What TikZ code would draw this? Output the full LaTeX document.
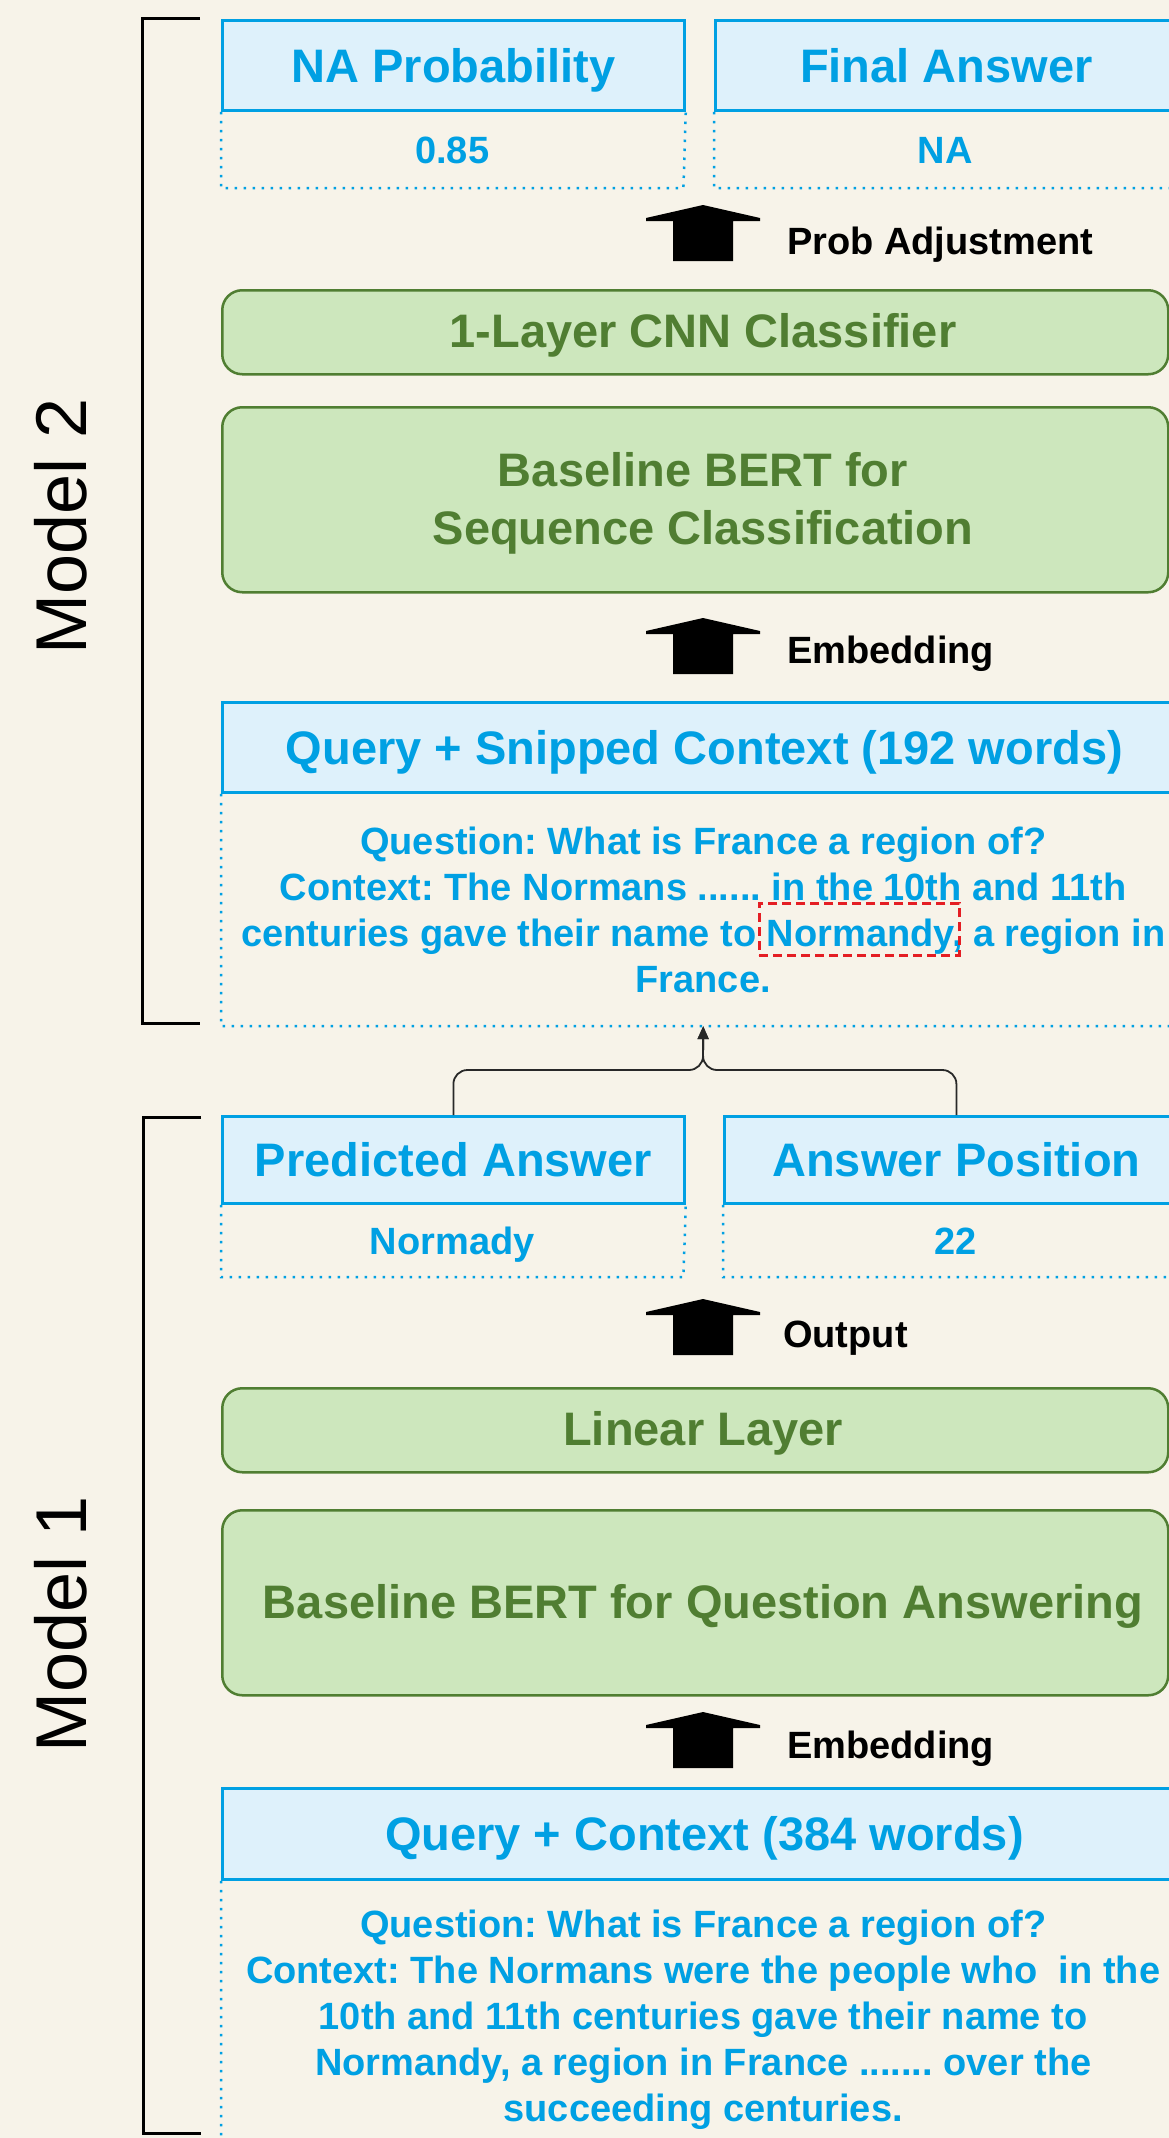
\documentclass[tikz,border=0pt]{standalone}
\usepackage{fontspec}
\setmainfont{Liberation Sans}
\usetikzlibrary{arrows.meta}
\definecolor{bgc}{RGB}{247,243,233}
\definecolor{bluec}{RGB}{0,160,227}
\definecolor{bluefill}{RGB}{222,241,251}
\definecolor{greenfill}{RGB}{205,231,189}
\definecolor{greenc}{RGB}{80,126,50}
\definecolor{redc}{RGB}{228,30,36}
\definecolor{linec}{RGB}{40,40,40}
\newcommand\myhdr{\bfseries\fontsize{47}{58}\selectfont}
\newcommand\myval{\bfseries\fontsize{38}{46}\selectfont}
\newcommand\mymodel{\fontsize{72}{80}\selectfont}
\frenchspacing
\begin{document}
\frenchspacing
\begin{tikzpicture}[x=1pt,y=-1pt,
  hdr/.style={draw=bluec, fill=bluefill, line width=2.8pt, text=bluec, font=\myhdr,
    inner sep=0pt, anchor=north west, minimum height=90pt, text height=33.6pt, text depth=0pt},
  area/.style={inner sep=0pt, anchor=north west, text=bluec, font=\myval,
    text height=27.2pt, text depth=0pt},
  gbox/.style={draw=greenc, fill=greenfill, line width=2.5pt, rounded corners=20pt,
    inner sep=0pt, anchor=north west},
  gtext/.style={text=greenc, font=\myhdr, align=center, inner sep=0pt,
    text height=33.6pt, text depth=0pt},
  dotl/.style={draw=bluec, line width=2.5pt, dash pattern=on 2.5pt off 6.5pt},
  lab/.style={font=\myval, anchor=west, inner sep=0pt, text height=27.2pt, text depth=0pt},
  conn/.style={draw=linec, line width=1.8pt, rounded corners=14pt,
    -{Triangle[width=11pt,length=13pt]}},
  brk/.style={draw=black, line width=3pt},
  mlabel/.style={rotate=90, font=\mymodel, inner sep=0pt, text height=51.6pt, text depth=0pt},
  pics/blockarrow/.style={code={
    \fill[black] (0,0) -- (-57,13) -- (-57,16) -- (-30,16) -- (-30,56) -- (30,56)
      -- (30,16) -- (57,16) -- (57,13) -- cycle;}}
]
\useasboundingbox (0,0) rectangle (1169,2138);
\clip (0,0) rectangle (1169,2138);
\fill[bgc] (0,0) rectangle (1169,2138);

% ---------------- Model 2 ----------------
\node[hdr, minimum width=462pt] (naph) at (221,19) {NA Probability};
\node[area, minimum width=462pt, minimum height=76pt] (napv) at (naph.south west) {0.85};
\draw[dotl] (naph.south west) -- (napv.south west) -- (napv.south east) -- (naph.south east);

\node[hdr, minimum width=462pt] (fah) at (714,19) {Final Answer};
\node[area, minimum width=462pt, minimum height=76pt] (fav) at (fah.south west) {NA};
\draw[dotl] (fah.south west) -- (fav.south west) -- (fav.south east) -- (fah.south east);

\pic at (703,205) {blockarrow};
\node[lab] (l1) at (787,241) {Prob Adjustment};

\node[gbox, minimum width=946pt, minimum height=84pt] (cnn) at (221,289) {};
\node[gtext] (cnnt) at (703,331) {1-Layer CNN Classifier};

\node[gbox, minimum width=946pt, minimum height=185pt] (bseq) at (221,406) {};
\node[gtext, text height=91.6pt] (bseqt) at (703,499) {Baseline BERT for\\Sequence Classification};

\pic at (703,618) {blockarrow};
\node[lab] (l2) at (787,650) {Embedding};

\node[hdr, minimum width=964pt] (qsch) at (221,701) {Query + Snipped Context (192 words)};
\node[area, minimum width=964pt, minimum height=232pt, align=center, text height=165.2pt] (qscv)
  at (qsch.south west) {Question: What is France a region of?\\
  Context: The Normans ...... in the 10th and 11th\\
  centuries gave their name to Normandy, a region in\\
  France.};
\draw[dotl] (qsch.south west) -- (qscv.south west) -- (qscv.south east) -- (qsch.south east);
\node[draw=redc, line width=2.5pt, dash pattern=on 9pt off 5pt, inner sep=0pt,
  minimum width=200pt, minimum height=52pt, anchor=north west] (hl) at (758,902) {};

\draw[brk] (200,19) -- (142,19) -- (142,1023) -- (200,1023);
\node[mlabel] (m2) at (61,526) {Model 2};

% ---------------- Model 1 ----------------
\node[hdr, minimum width=462pt, minimum height=87pt] (pah) at (221,1115) {Predicted Answer};
\node[area, minimum width=462pt, minimum height=72pt] (pav) at (pah.south west) {Normady};
\draw[dotl] (pah.south west) -- (pav.south west) -- (pav.south east) -- (pah.south east);

\node[hdr, minimum width=464pt, minimum height=87pt] (aph) at (723,1115) {Answer Position};
\node[area, minimum width=464pt, minimum height=72pt] (apv) at (aph.south west) {22};
\draw[dotl] (aph.south west) -- (apv.south west) -- (apv.south east) -- (aph.south east);

\coordinate (mg) at (703,1070);
\draw[conn] (pah.north) |- (mg) -- (qscv.south);
\draw[conn] (aph.north) |- (mg) -- (qscv.south);

\pic at (703,1299) {blockarrow};
\node[lab] (l3) at (783,1334) {Output};

\node[gbox, minimum width=946pt, minimum height=84pt] (lin) at (221,1387) {};
\node[gtext] (lint) at (703,1429) {Linear Layer};

\node[gbox, minimum width=946pt, minimum height=185pt] (bqa) at (221,1509) {};
\node[gtext] (bqat) at (703,1602) {Baseline BERT for Question Answering};

\pic at (703,1712) {blockarrow};
\node[lab] (l4) at (787,1745) {Embedding};

\node[hdr, minimum width=964pt, minimum height=91pt] (qch) at (221,1787) {Query + Context (384 words)};
\node[area, minimum width=964pt, minimum height=270pt, align=center, text height=211.2pt] (qcv)
  at (qch.south west) {Question: What is France a region of?\\
  Context: The Normans were the people who~ in the\\
  10th and 11th centuries gave their name to\\
  Normandy, a region in France ....... over the\\
  succeeding centuries.};
\draw[dotl] (qch.south west) -- (qcv.south west) -- (qcv.south east) -- (qch.south east);

\draw[brk] (201,1117) -- (143,1117) -- (143,2133) -- (201,2133);
\node[mlabel] (m1) at (61,1624) {Model 1};
\end{tikzpicture}
\end{document}
